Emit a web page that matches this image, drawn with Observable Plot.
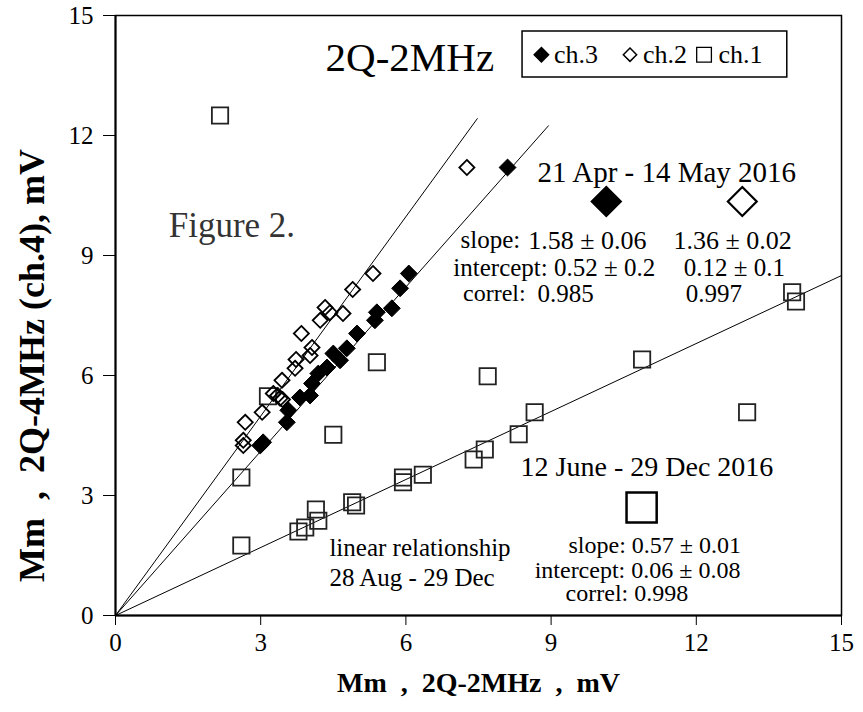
<!DOCTYPE html>
<html>
<head>
<meta charset="utf-8">
<script src="https://cdn.jsdelivr.net/npm/d3@7"></script>
<script src="https://cdn.jsdelivr.net/npm/@observablehq/plot@0.6"></script>
<style>
  html, body { margin: 0; padding: 0; background: #fff; }
  #chart svg { font-family: "Liberation Serif", "Times New Roman", serif; }
</style>
</head>
<body>
<div id="chart"></div>
<script>
// ---- data ----
const ticks = [0, 3, 6, 9, 12, 15];

// ch.1 (open squares)
const ch1X = [2.16, 2.6, 2.6, 3.15, 3.78, 3.92, 4.14, 4.19, 4.5, 4.89, 4.97, 5.4, 5.94, 5.94, 6.35, 7.4, 7.63, 7.69, 8.33, 8.66, 10.88, 13.05, 13.98, 14.06];
const ch1Y = [12.5, 3.45, 1.75, 5.48, 2.1, 2.2, 2.65, 2.37, 4.52, 2.83, 2.75, 6.33, 3.45, 3.33, 3.52, 3.9, 4.15, 5.98, 4.53, 5.08, 6.4, 5.08, 8.08, 7.85];

// ch.2 (open diamonds)
const ch2X = [2.64, 2.64, 2.68, 3.03, 3.26, 3.35, 3.4, 3.45, 3.44, 3.71, 3.73, 3.84, 4.02, 4.06, 4.23, 4.33, 4.43, 4.7, 4.9, 5.32, 7.26];
const ch2Y = [4.25, 4.38, 4.83, 5.08, 5.55, 5.5, 5.43, 5.4, 5.88, 6.18, 6.4, 7.05, 6.5, 6.7, 7.38, 7.7, 7.57, 7.55, 8.15, 8.55, 11.2];

// ch.3 (filled diamonds)
const ch3X = [2.99, 3.05, 3.54, 3.57, 3.81, 4.02, 4.06, 4.19, 4.37, 4.5, 4.64, 4.78, 4.99, 5.36, 5.4, 5.71, 5.88, 6.06, 8.1];
const ch3Y = [4.25, 4.33, 4.83, 5.13, 5.45, 5.5, 5.8, 6.05, 6.2, 6.55, 6.38, 6.68, 7.05, 7.38, 7.58, 7.68, 8.18, 8.55, 11.2];

// fitted lines through the origin (end points)
const fitNames = ["ch.2", "ch.3", "ch.1"];
const fitEndX = [7.48, 8.95, 15];
const fitEndY = [12.43, 12.25, 8.5];

const legendLabels = ["ch.3", "ch.2", "ch.1"];

// ---- build tables ----
const pts = (xs, ys) => xs.map((x, i) => ({x, y: ys[i]}));
const ch1 = pts(ch1X, ch1Y), ch2 = pts(ch2X, ch2Y), ch3 = pts(ch3X, ch3Y);
const fits = fitNames.map((n, i) => ({n, x1: 0, y1: 0, x2: fitEndX[i], y2: fitEndY[i]}));

const F = "Liberation Serif";
const txt = (s, x, y, size, extra = {}) =>
  Plot.text([s], {x: () => x, y: () => y, text: d => d, textAnchor: "start", fontSize: size, fontFamily: F, fill: "#000", ...extra});

const chart = Plot.plot({
  width: 863,
  height: 712,
  marginLeft: 115,
  marginRight: 22,
  marginTop: 15,
  marginBottom: 97,
  x: {domain: [0, 15], ticks: ticks, tickSize: 10, tickPadding: 8, label: null},
  y: {domain: [0, 15], ticks: ticks, tickSize: 12, tickPadding: 10, label: null},
  style: {fontFamily: F, fontSize: "25px", color: "#000", background: "#fff"},
  marks: [
    Plot.frame({stroke: "#000", strokeWidth: 1.5}),
    Plot.ruleX([0], {stroke: "#000", strokeWidth: 2}),
    Plot.ruleY([0], {stroke: "#000", strokeWidth: 2}),
    Plot.link(fits, {x1: "x1", y1: "y1", x2: "x2", y2: "y2", stroke: "#000", strokeWidth: 1}),
    Plot.dot(ch1, {x: "x", y: "y", symbol: "square", r: 9.2, fill: "none", stroke: "#222", strokeWidth: 1.8}),
    Plot.dot(ch2, {x: "x", y: "y", symbol: "diamond2", r: 6.8, fill: "none", stroke: "#000", strokeWidth: 1.8}),
    Plot.dot(ch3, {x: "x", y: "y", symbol: "diamond2", r: 7.6, fill: "#000", stroke: "#000", strokeWidth: 1}),

    // title
    txt("2Q-2MHz", 4.34, 13.93, 41),
    // legend box
    Plot.rect([0], {x1: () => 8.41, x2: () => 13.88, y1: () => 13.45, y2: () => 14.6, fill: "#fff", stroke: "#000", strokeWidth: 1.5}),
    Plot.dot([0], {x: () => 8.8, y: () => 14.02, symbol: "diamond2", r: 6.5, fill: "#000", stroke: "#000"}),
    txt(legendLabels[0], 9.06, 14.02, 26),
    Plot.dot([0], {x: () => 10.63, y: () => 14.02, symbol: "diamond2", r: 6, fill: "none", stroke: "#000", strokeWidth: 1.5}),
    txt(legendLabels[1], 10.9, 14.02, 26),
    Plot.dot([0], {x: () => 12.16, y: () => 14.02, symbol: "square", r: 8.3, fill: "none", stroke: "#000", strokeWidth: 1.3}),
    txt(legendLabels[2], 12.46, 14.02, 26),

    // Figure label
    txt("Figure 2.", 1.1, 9.75, 35, {fill: "#333"}),

    // April-May block
    txt("21 Apr - 14 May 2016", 8.72, 11.08, 29),
    Plot.dot([0], {x: () => 10.14, y: () => 10.35, symbol: "diamond2", r: 13.5, fill: "#000", stroke: "#000"}),
    Plot.dot([0], {x: () => 12.95, y: () => 10.35, symbol: "diamond2", r: 13, fill: "none", stroke: "#000", strokeWidth: 2.2}),
    txt("slope:", 7.13, 9.38, 25),
    txt("1.58 ± 0.06", 8.53, 9.38, 25, {fontSize: 26}),
    txt("1.36 ± 0.02", 11.53, 9.38, 25, {fontSize: 26}),
    txt("intercept: 0.52 ± 0.2", 6.98, 8.7, 25),
    txt("0.12 ± 0.1", 11.74, 8.7, 25),
    txt("correl:", 7.18, 8.05, 24),
    txt("0.985", 8.72, 8.05, 25),
    txt("0.997", 11.78, 8.05, 25),

    // June-Dec block
    txt("12 June - 29 Dec 2016", 8.37, 3.7, 28),
    Plot.dot([0], {x: () => 10.87, y: () => 2.7, symbol: "square", r: 17, fill: "none", stroke: "#000", strokeWidth: 2.5}),
    txt("slope: 0.57 ± 0.01", 9.36, 1.75, 24),
    txt("intercept: 0.06 ± 0.08", 8.66, 1.14, 24),
    txt("correl: 0.998", 9.3, 0.55, 24),

    txt("linear relationship", 4.42, 1.68, 25),
    txt("28 Aug - 29 Dec", 4.42, 0.93, 25),

    // axis titles
    Plot.text(["Mm  ,  2Q-2MHz  ,  mV"], {frameAnchor: "bottom", textAnchor: "middle", dy: 76, text: d => d, fontSize: 28, fontWeight: "bold", fontFamily: F, fill: "#000"}),
    Plot.text(["Mm  ,  2Q-4MHz (ch.4), mV"], {frameAnchor: "left", textAnchor: "middle", dx: -83, dy: 50, rotate: -90, text: d => d, fontSize: 36, fontWeight: "bold", fontFamily: F, fill: "#000"})
  ]
});
document.getElementById("chart").appendChild(chart);
</script>
</body>
</html>
